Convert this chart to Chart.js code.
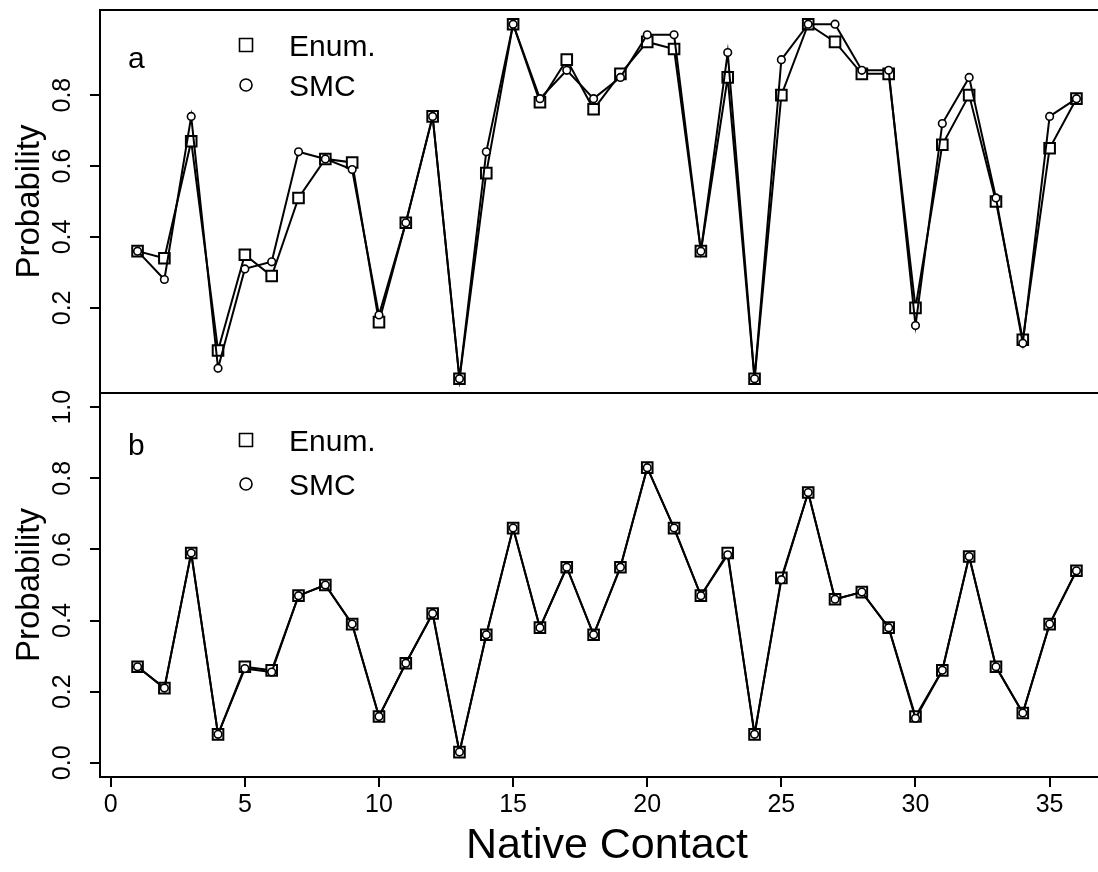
<!DOCTYPE html>
<html>
<head>
<meta charset="utf-8">
<script src="https://cdn.jsdelivr.net/npm/chart.js@4.4.1/dist/chart.umd.min.js"></script>
<style>
  html, body { margin: 0; padding: 0; background: #fff; overflow: hidden; width: 1098px; height: 872px; }
  canvas { position: absolute; left: 0; }
  #topChart { top: 0; width: 1130px; height: 400px; }
  #bottomChart { top: 380px; width: 1130px; height: 492px; }
</style>
</head>
<body>
<canvas id="topChart" width="1130" height="400"></canvas>
<canvas id="bottomChart" width="1130" height="492"></canvas>
<script>
const contacts = [1, 2, 3, 4, 5, 6, 7, 8, 9, 10, 11, 12, 13, 14, 15, 16, 17, 18,
  19, 20, 21, 22, 23, 24, 25, 26, 27, 28, 29, 30, 31, 32, 33, 34, 35, 36];

// panel a
const topEnum = [0.36, 0.34, 0.67, 0.08, 0.35, 0.29, 0.51, 0.62, 0.61, 0.16, 0.44, 0.74,
  0.0, 0.58, 1.0, 0.78, 0.90, 0.76, 0.86, 0.95, 0.93, 0.36, 0.85, 0.0,
  0.80, 1.0, 0.95, 0.86, 0.86, 0.20, 0.66, 0.80, 0.50, 0.11, 0.65, 0.79];
const topSmc = [0.36, 0.28, 0.74, 0.03, 0.31, 0.33, 0.64, 0.62, 0.59, 0.18, 0.44, 0.74,
  0.0, 0.64, 1.0, 0.79, 0.87, 0.79, 0.85, 0.97, 0.97, 0.36, 0.92, 0.0,
  0.90, 1.0, 1.0, 0.87, 0.87, 0.15, 0.72, 0.85, 0.51, 0.10, 0.74, 0.79];

// panel b
const bottomEnum = [0.27, 0.21, 0.59, 0.08, 0.27, 0.26, 0.47, 0.50, 0.39, 0.13, 0.28, 0.42,
  0.03, 0.36, 0.66, 0.38, 0.55, 0.36, 0.55, 0.83, 0.66, 0.47, 0.59, 0.08,
  0.52, 0.76, 0.46, 0.48, 0.38, 0.13, 0.26, 0.58, 0.27, 0.14, 0.39, 0.54];
const bottomSmc = [0.27, 0.21, 0.59, 0.08, 0.265, 0.255, 0.47, 0.50, 0.39, 0.13, 0.28, 0.42,
  0.03, 0.36, 0.66, 0.38, 0.55, 0.36, 0.55, 0.83, 0.66, 0.47, 0.585, 0.08,
  0.515, 0.76, 0.46, 0.48, 0.38, 0.125, 0.26, 0.58, 0.27, 0.14, 0.39, 0.54];

const topYTicks = [0.2, 0.4, 0.6, 0.8];
const bottomYTicks = [0.0, 0.2, 0.4, 0.6, 0.8, 1.0];
const xTicks = [0, 5, 10, 15, 20, 25, 30, 35];

const family = "'Liberation Sans', Arial, Helvetica, sans-serif";
Chart.defaults.font.family = family;
Chart.defaults.color = '#000';

function toPoints(values) {
  return values.map((v, i) => ({ x: contacts[i], y: v }));
}

function makeDatasets(enumVals, smcVals) {
  return [
    {
      label: 'Enum.',
      data: toPoints(enumVals),
      borderColor: '#000',
      borderWidth: 2,
      pointStyle: 'rect',
      pointRadius: 7.5,
      pointBorderWidth: 2,
      pointBorderColor: '#000',
      pointBackgroundColor: '#fff',
      order: 1,
    },
    {
      label: 'SMC',
      data: toPoints(smcVals),
      borderColor: '#000',
      borderWidth: 2,
      pointStyle: 'circle',
      pointRadius: 3.8,
      pointBorderWidth: 1.6,
      pointBorderColor: '#000',
      pointBackgroundColor: '#fff',
      order: 0,
    },
  ];
}

// the scales should not push the plot area around
function noPadding(s) {
  s.paddingTop = 0;
  s.paddingBottom = 0;
  s.paddingLeft = 0;
  s.paddingRight = 0;
}

// box around the plot region
const boxPlugin = {
  id: 'box',
  afterDraw(chart) {
    const { ctx, chartArea: a } = chart;
    ctx.save();
    ctx.strokeStyle = '#000';
    ctx.lineWidth = 2;
    ctx.strokeRect(a.left, a.top, a.right - a.left, a.bottom - a.top);
    ctx.restore();
  },
};

// panel letter and the little in-plot legend
const panelLegend = {
  id: 'panelLegend',
  afterDraw(chart, args, opts) {
    const { ctx, chartArea: a } = chart;
    ctx.save();
    ctx.fillStyle = '#000';
    ctx.strokeStyle = '#000';
    ctx.textBaseline = 'alphabetic';
    ctx.font = `30px ${family}`;
    ctx.fillText(opts.letter, a.left + 28, a.top + opts.letterY);
    ctx.lineWidth = 1.6;
    chart.data.datasets.forEach((ds, i) => {
      const y = a.top + opts.rows[i];
      const cx = a.left + 146;
      const cy = y - 11;
      ctx.beginPath();
      if (ds.pointStyle === 'rect') {
        ctx.rect(cx - 6.5, cy - 6.5, 13, 13);
      } else {
        ctx.arc(cx, cy, 6, 0, Math.PI * 2);
      }
      ctx.stroke();
      ctx.fillText(ds.label, a.left + 189, y);
    });
    ctx.restore();
  },
};

function yScale(tickList) {
  return {
    type: 'linear',
    min: -0.04,
    max: 1.04,
    afterBuildTicks: (s) => { s.ticks = tickList.map((v) => ({ value: v })); },
    afterFit: (s) => { s.width = 100; noPadding(s); },
    border: { display: false },
    grid: { drawOnChartArea: false, drawTicks: true, tickLength: 10, color: '#000', lineWidth: 2 },
    ticks: {
      minRotation: 90,
      maxRotation: 90,
      crossAlign: 'center',
      padding: 10,
      font: { size: 25 },
      color: '#000',
      callback: (v) => Number(v).toFixed(1),
    },
    title: { display: true, text: 'Probability', font: { size: 33 }, color: '#000', padding: { top: 10, bottom: 0 } },
  };
}

new Chart(document.getElementById('topChart'), {
  type: 'line',
  data: { datasets: makeDatasets(topEnum, topSmc) },
  options: {
    responsive: false,
    animation: false,
    layout: { autoPadding: false, padding: { top: 10, right: 16, bottom: 7, left: 0 } },
    scales: {
      x: { type: 'linear', min: -0.4, max: 37.4, display: false },
      y: yScale(topYTicks),
    },
    plugins: {
      legend: { display: false },
      tooltip: { enabled: false },
      panelLegend: { letter: 'a', letterY: 58, rows: [46, 86] },
    },
  },
  plugins: [boxPlugin, panelLegend],
});

new Chart(document.getElementById('bottomChart'), {
  type: 'line',
  data: { datasets: makeDatasets(bottomEnum, bottomSmc) },
  options: {
    responsive: false,
    animation: false,
    layout: { autoPadding: false, padding: { top: 13, right: 16, bottom: 0, left: 0 } },
    scales: {
      x: {
        type: 'linear',
        min: -0.4,
        max: 37.4,
        afterBuildTicks: (s) => { s.ticks = xTicks.map((v) => ({ value: v })); },
        afterFit: (s) => { s.height = 95; noPadding(s); },
        border: { display: false },
        grid: { drawOnChartArea: false, drawTicks: true, tickLength: 10, color: '#000', lineWidth: 2 },
        ticks: { maxRotation: 0, padding: 3, font: { size: 25 }, color: '#000' },
        title: { display: true, text: 'Native Contact', font: { size: 43 }, color: '#000', padding: { top: 0, bottom: 0 } },
      },
      y: yScale(bottomYTicks),
    },
    plugins: {
      legend: { display: false },
      tooltip: { enabled: false },
      panelLegend: { letter: 'b', letterY: 62, rows: [58, 102] },
    },
  },
  plugins: [boxPlugin, panelLegend],
});
</script>
</body>
</html>
